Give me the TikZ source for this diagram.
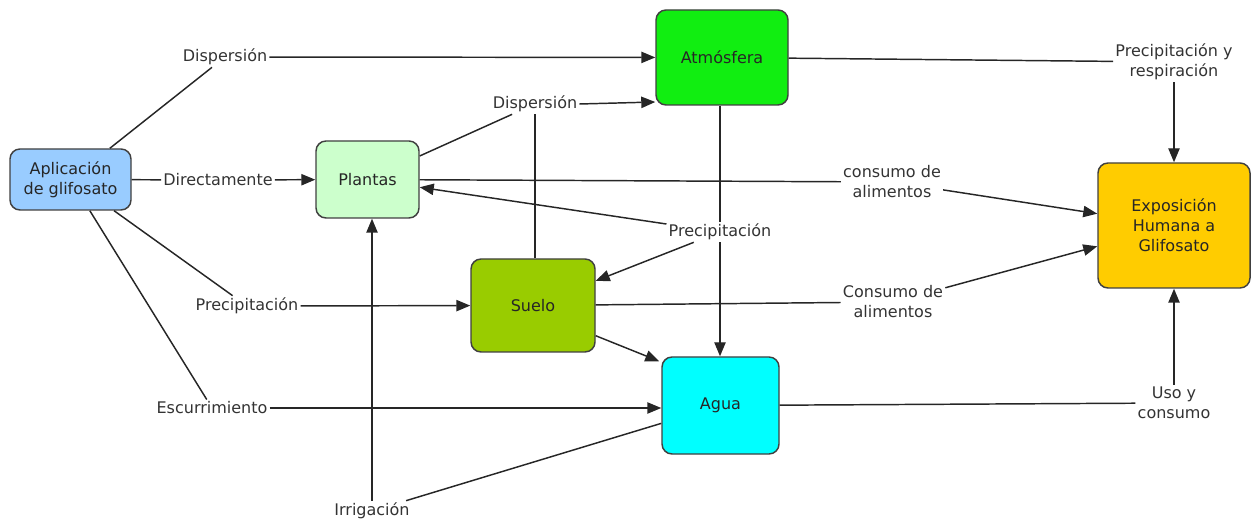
\documentclass[tikz,border=0pt]{standalone}
\usepackage{fontspec}
\setmainfont{DejaVu Sans}
\usetikzlibrary{arrows.meta,calc}
\definecolor{cApl}{HTML}{99CCFF}
\definecolor{cPla}{HTML}{CCFFCC}
\definecolor{cAtm}{HTML}{11EE11}
\definecolor{cSue}{HTML}{99CC00}
\definecolor{cAgu}{HTML}{00FFFF}
\definecolor{cExp}{HTML}{FFCC00}
\begin{document}
\begin{tikzpicture}[x=0.75pt,y=-0.75pt,
  box/.style={draw=black!75, line width=1.1pt, rounded corners=7.5pt, align=center,
    font=\fontsize{12}{15}\selectfont, text=black!85, inner sep=0pt},
  lbl/.style={align=center, font=\fontsize{12}{15}\selectfont, text=black!80, inner sep=1.5pt},
  con/.style={draw=black!85, line width=1.1pt},
  arr/.style={con, -{Triangle[length=10.5pt,width=8.5pt]}}]
\useasboundingbox (0,0) rectangle (1252,523);

% boxes
\node[box, fill=cApl, minimum width=121*0.75pt, minimum height=61*0.75pt] (apl) at (70.5,179.5) {Aplicación\\de glifosato};
\node[box, fill=cPla, minimum width=103*0.75pt, minimum height=77*0.75pt] (pla) at (367.5,179.5) {Plantas};
\node[box, fill=cAtm, minimum width=132*0.75pt, minimum height=95*0.75pt] (atm) at (722,57.5) {Atmósfera};
\node[box, fill=cSue, minimum width=124*0.75pt, minimum height=93*0.75pt] (sue) at (533,305.5) {Suelo};
\node[box, fill=cAgu, minimum width=117*0.75pt, minimum height=97*0.75pt] (agu) at (720.5,405.5) {Agua};
\node[box, fill=cExp, minimum width=152*0.75pt, minimum height=125*0.75pt] (exp) at (1174,225.5) {Exposición\\Humana a\\Glifosato};

% linking phrases
\node[lbl] (d1) at (225,57) {Dispersión};
\node[lbl] (dir) at (218,180) {Directamente};
\node[lbl] (p1) at (247,306) {Precipitación};
\node[lbl] (esc) at (212,408) {Escurrimiento};
\node[lbl] (irr) at (372,511) {Irrigación};
\node[lbl] (d2) at (535,104) {Dispersión};
\node[lbl] (p2) at (720,232) {Precipitación};
\node[lbl] (p3) at (1174,62) {Precipitación y\\respiración};
\node[lbl] (c1) at (892,182) {consumo de\\alimentos};
\node[lbl] (c2) at (893,302) {Consumo de\\alimentos};
\node[lbl] (uso) at (1174,403) {Uso y\\consumo};

% connectors
\draw[con] (apl) -- (d1);
\draw[arr] (d1) -- (atm);
\draw[con] (apl) -- (dir);
\draw[arr] (dir) -- (pla);
\draw[con] (apl) -- (p1);
\draw[arr] (p1) -- (sue);
\draw[con] (apl) -- (esc);
\draw[arr] (esc) -- (esc -| agu.west);
\draw[con] (agu) -- (irr);
\draw[arr] (irr.north) -- (irr.north |- pla.south);
\draw[con] (pla) -- (d2);
\draw[con] (sue.north -| d2) -- (d2);
\draw[arr] (d2.east) -- ($(d2.east -| atm.west)+(0,-2)$);
\draw[con] (atm.south -| p2) -- (p2);
\draw[arr] (p2) -- (pla);
\draw[arr] (p2) -- (sue);
\draw[arr] (p2) -- (agu.north -| p2);
\draw[con] (atm) -- (p3);
\draw[arr] (p3) -- (exp);
\draw[con] (pla) -- (c1);
\draw[arr] (c1) -- (exp);
\draw[con] (sue) -- (c2);
\draw[arr] (c2) -- (exp);
\draw[arr] ($(sue.south east)+(0,-17)$) -- ($(agu.north west)+(-2,5)$);
\draw[con] (agu) -- (uso);
\draw[arr] (uso) -- (exp);
\end{tikzpicture}
\end{document}
